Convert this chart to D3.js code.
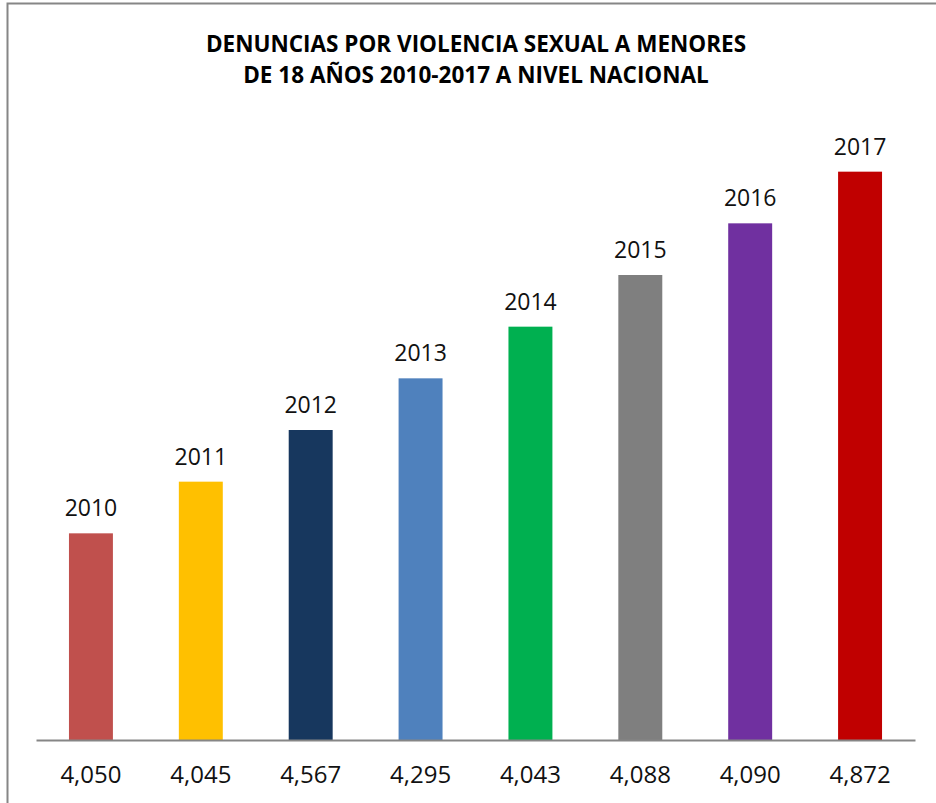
<!DOCTYPE html>
<html>
<head>
<meta charset="UTF-8">
<title>Denuncias por violencia sexual</title>
<style>
body { margin: 0; background: white; }
</style>
</head>
<script src="https://d3js.org/d3.v7.min.js"></script>
<body>
<script type="text/javascript">
// data: bars plot the year, axis shows the count
var years = [2010, 2011, 2012, 2013, 2014, 2015, 2016, 2017]
var counts = ["4,050", "4,045", "4,567", "4,295", "4,043", "4,088", "4,090", "4,872"]
var colors = ["#C0504D", "#FFC000", "#17375E", "#4F81BD", "#00B050", "#7F7F7F", "#7030A0", "#C00000"]
var titleLines = ["DENUNCIAS POR VIOLENCIA SEXUAL A MENORES", "DE 18 AÑOS 2010-2017 A NIVEL NACIONAL"]

var W = 936, H = 803
var font = "Open Sans, sans-serif"

var svg = d3.select("body")
  .append("svg")
  .attr("width", W)
  .attr("height", H)
  .style("background", "white")

// chart frame
svg.append("rect")
  .attr("x", 7.5).attr("y", 3.5)
  .attr("width", W + 10).attr("height", H + 10)
  .attr("fill", "none")
  .attr("stroke", "#868686")
  .attr("stroke-width", 2)

svg.selectAll(".title")
  .data(titleLines).enter()
  .append("text")
  .attr("class", "title")
  .attr("x", 476)
  .attr("y", function(d, i) { return 52 + i * 31 })
  .attr("text-anchor", "middle")
  .style("font-family", font)
  .style("font-weight", "bold")
  .style("font-size", "22.5px")
  .text(function(d) { return d })

var x = d3.scaleBand()
  .domain(counts.map(function(d, i) { return i }))
  .range([36, 915])
  .paddingInner(0.6)
  .paddingOuter(0.3)

var y = d3.scaleLinear()
  .domain([2006, 2018])
  .range([740, 120])

svg.selectAll(".bar")
  .data(years).enter()
  .append("rect")
  .attr("class", "bar")
  .attr("x", function(d, i) { return x(i) })
  .attr("y", function(d) { return y(d) })
  .attr("width", x.bandwidth())
  .attr("height", function(d) { return y(2006) - y(d) })
  .attr("fill", function(d, i) { return colors[i] })

svg.selectAll(".lbl")
  .data(years).enter()
  .append("text")
  .attr("class", "lbl")
  .attr("x", function(d, i) { return x(i) + x.bandwidth() / 2 })
  .attr("y", function(d) { return y(d) - 17 })
  .attr("text-anchor", "middle")
  .style("font-family", font)
  .style("font-size", "23px")
  .style("fill", "#111")
  .text(function(d) { return d })

var axis = d3.axisBottom(x)
  .tickSize(0)
  .tickPadding(26)
  .tickFormat(function(d) { return counts[d] })

var g = svg.append("g")
  .attr("transform", "translate(0,740)")
  .call(axis)
g.select(".domain").attr("stroke", "#868686").attr("stroke-width", 2)
g.selectAll("text")
  .style("font-family", font)
  .style("font-size", "24px")
  .style("fill", "#111")
</script>
</body>
</html>
